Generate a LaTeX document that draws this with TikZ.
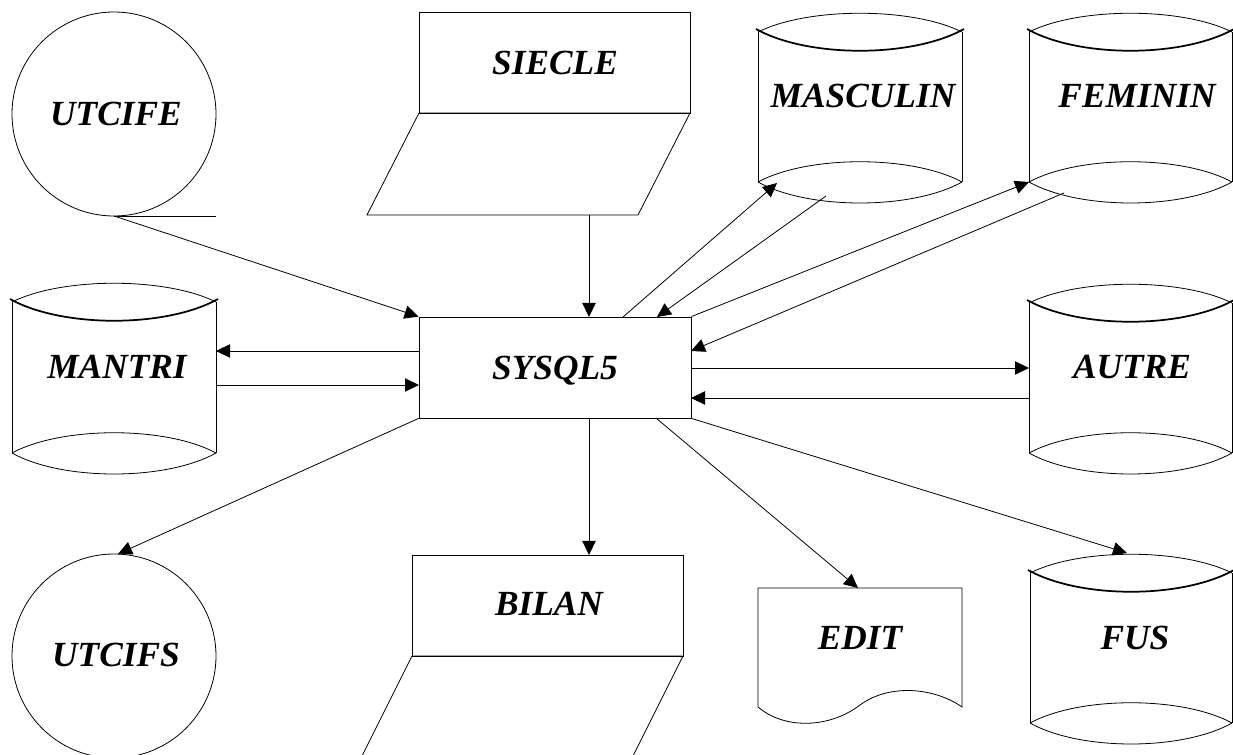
\documentclass[tikz,border=0pt]{standalone}
\usepackage{fontspec}
\setmainfont{Liberation Serif}
\usetikzlibrary{arrows.meta}

% drum (disk file) symbol: #1 left x, #2 right x, #3 top corner y, #4 bottom corner y
\newcommand\drumshape[4]{%
  \draw[outline] (#1,#3) -- (#1,#4) (#2,#3) -- (#2,#4);
  \draw[outline] (#1,#3) .. controls ({#1+50},{#3-25}) and ({#2-50},{#3-25}) .. (#2,#3);
  \draw[lid] ({#1-2},{#3-3}) .. controls ({#1+50},{#3+26}) and ({#2-50},{#3+26}) .. ({#2+2},{#3-3});
  \draw[outline] (#1,#4) .. controls ({#1+50},{#4-27}) and ({#2-50},{#4-27}) .. (#2,#4);
  \draw[outline] (#1,#4) .. controls ({#1+50},{#4+28}) and ({#2-50},{#4+28}) .. (#2,#4);
}

\begin{document}
\begin{tikzpicture}[x=0.75pt,y=-0.75pt,
  outline/.style={line width=0.6pt},
  lid/.style={line width=1.3pt},
  flow/.style={line width=0.6pt,-{Triangle[length=10.5pt,width=10pt]}},
  lbl/.style={font=\fontsize{26.5pt}{31pt}\selectfont\bfseries\itshape,
              inner sep=0pt, text depth=0pt}]
\useasboundingbox (0,0) rectangle (1233,755);
\clip (0,0) rectangle (1233,755);

% ---- central program box
\node[lbl, draw, line width=0.6pt, minimum width=204pt, minimum height=75.75pt]
  (sys) at (555,367.5) {SYSQL5};

% ---- input tape UTCIFE
\draw[outline] (114,114) circle[radius=102];
\draw[outline] (114,216) -- (216,216);
\node[lbl] (utcife) at (116,114) {UTCIFE};
\coordinate (utcifeOut) at (114,216);

% ---- SIECLE (manual input)
\draw[outline] (419,12) rectangle (690,113);
\draw[outline] (419,113) -- (690,113) -- (638,215) -- (367,215) -- cycle;
\node[lbl] (siecle) at (555,63) {SIECLE};
\coordinate (siecleOut) at (589,215);

% ---- disk files
\drumshape{758}{962}{32}{182}
\node[lbl] (masculin) at (863,96) {MASCULIN};
\drumshape{1029}{1232}{32}{182}
\node[lbl] (feminin) at (1137,96) {FEMININ};
\drumshape{12}{216}{302}{453}
\node[lbl] (mantri) at (117,367) {MANTRI};
\drumshape{1029}{1232}{303}{453}
\node[lbl] (autre) at (1132,367) {AUTRE};
\drumshape{1030}{1232}{573}{723}
\node[lbl] (fus) at (1135,638) {FUS};

% ---- output tape UTCIFS
\draw[outline] (114,656) circle[radius=102];
\node[lbl] (utcifs) at (116,655) {UTCIFS};

% ---- BILAN
\draw[outline] (412,555) rectangle (683,656);
\draw[outline] (412,656) -- (683,656) -- (632,758) -- (361,758) -- cycle;
\node[lbl] (bilan) at (549,604) {BILAN};

% ---- EDIT (printed document)
\draw[outline] (758,707) -- (758,588) -- (962,588) -- (962,707)
  .. controls (935,688) and (890,683) .. (860,705)
  .. controls (830,728) and (785,730) .. (758,707);
\node[lbl] (edit) at (860,638) {EDIT};

% ---- attachment points
\coordinate (mascIn)  at (777,183);
\coordinate (mascOut) at (826,196);
\coordinate (femIn)   at (1029,182);
\coordinate (femOut)  at (1064,193);
\coordinate (mantriIn)  at (216,351);
\coordinate (mantriOut) at (216,385);
\coordinate (autreIn)   at (1029,368);
\coordinate (autreOut)  at (1029,398);
\coordinate (utcifsIn)  at (118,554);
\coordinate (bilanIn)   at (589,555);
\coordinate (editIn)    at (858,588);
\coordinate (fusIn)     at (1127,553);

\coordinate (sysT1) at (589,317);
\coordinate (sysT2) at (623,317);
\coordinate (sysT3) at (657,317);
\coordinate (sysL1) at (419,351);
\coordinate (sysL2) at (419,385);
\coordinate (sysR1) at (691,351);
\coordinate (sysR2) at (691,368);
\coordinate (sysR3) at (691,398);
\coordinate (sysB1) at (589,418);
\coordinate (sysB2) at (656,418);

% ---- flows
\draw[flow] (utcifeOut) -- (sys.north west);
\draw[flow] (siecleOut) -- (sysT1);
\draw[flow] (sysT2) -- (mascIn);
\draw[flow] (mascOut) -- (sysT3);
\draw[flow] (sys.north east) -- (femIn);
\draw[flow] (femOut) -- (sysR1);
\draw[flow] (sysL1) -- (mantriIn);
\draw[flow] (mantriOut) -- (sysL2);
\draw[flow] (sysR2) -- (autreIn);
\draw[flow] (autreOut) -- (sysR3);
\draw[flow] (sys.south west) -- (utcifsIn);
\draw[flow] (sysB1) -- (bilanIn);
\draw[flow] (sysB2) -- (editIn);
\draw[flow] (sys.south east) -- (fusIn);
\end{tikzpicture}
\end{document}
